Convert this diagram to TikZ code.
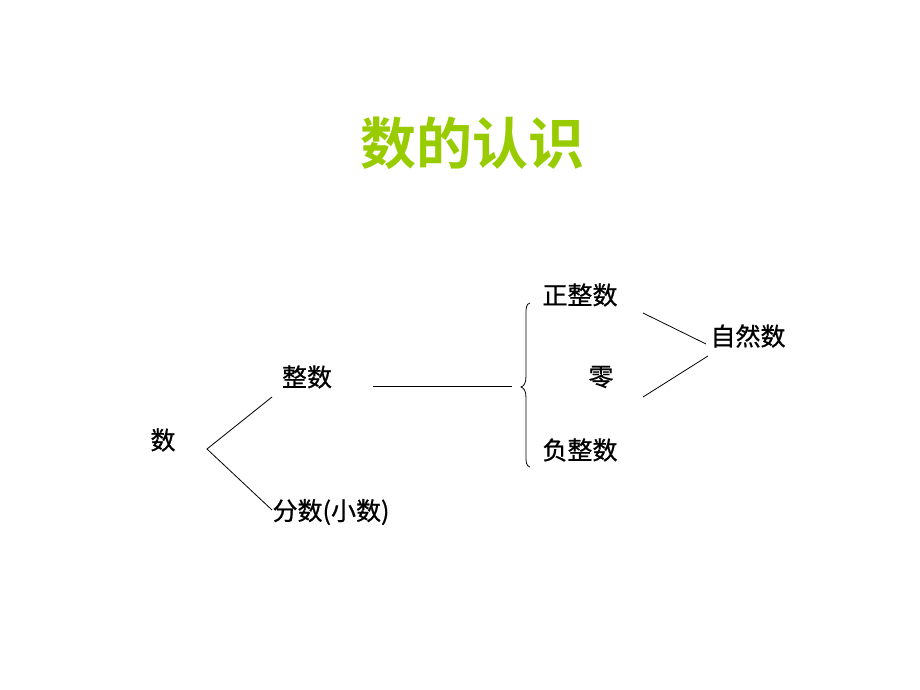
\documentclass[tikz,border=0pt]{standalone}
\usepackage{fontspec}
\newfontfamily\cjk{Noto Sans CJK SC}[FakeBold=0.8]
\newfontfamily\cjkb{Noto Sans CJK SC}[BoldFont={* Bold}]
\definecolor{titlegreen}{RGB}{153,204,0}
\begin{document}
\begin{tikzpicture}[x=1pt,y=-1pt,
  lbl/.style={font=\cjk\fontsize{25}{28}\selectfont, inner sep=0pt, text=black},
  ttl/.style={font=\cjkb\bfseries\fontsize{56}{62}\selectfont, inner sep=0pt, text=titlegreen},
  conn/.style={draw=black, line width=0.8pt}]
\useasboundingbox (0,0) rectangle (920,690);
\fill[white] (0,0) rectangle (920,690);
\node[ttl] (title) at (472,143) {数的认识};
\node[lbl] (shu) at (163,440) {数};
\node[lbl] (zhengshu) at (307,377) {整数};
\node[lbl] (fenshu) at (331,512) {分数(小数)};
\node[lbl] (zzs) at (580,295) {正整数};
\node[lbl] (ling) at (601,377) {零};
\node[lbl] (fzs) at (580,450) {负整数};
\node[lbl] (zrs) at (748,336) {自然数};
\coordinate (v) at (207,449);
\coordinate (vt) at (272,397);
\coordinate (vb) at (272,510);
\coordinate (hl) at (373,386);
\coordinate (hr) at (512,386);
\coordinate (bt) at (530,303);
\coordinate (bm) at (521,387);
\coordinate (bb) at (530,467);
\coordinate (a1) at (643,313);
\coordinate (a2) at (706,344);
\coordinate (b1) at (643,397);
\coordinate (b2) at (708,356);
\draw[conn] (vt) -- (v) -- (vb);
\draw[conn] (hl) -- (hr);
\draw[conn] (bt) .. controls (526,304) and (526,308) .. (526,314)
  -- (526,376) .. controls (526,383) and (524,386) .. (bm)
  .. controls (524,388) and (526,391) .. (526,398)
  -- (526,456) .. controls (526,462) and (526,466) .. (bb);
\draw[conn] (a1) -- (a2);
\draw[conn] (b1) -- (b2);
\end{tikzpicture}
\end{document}
